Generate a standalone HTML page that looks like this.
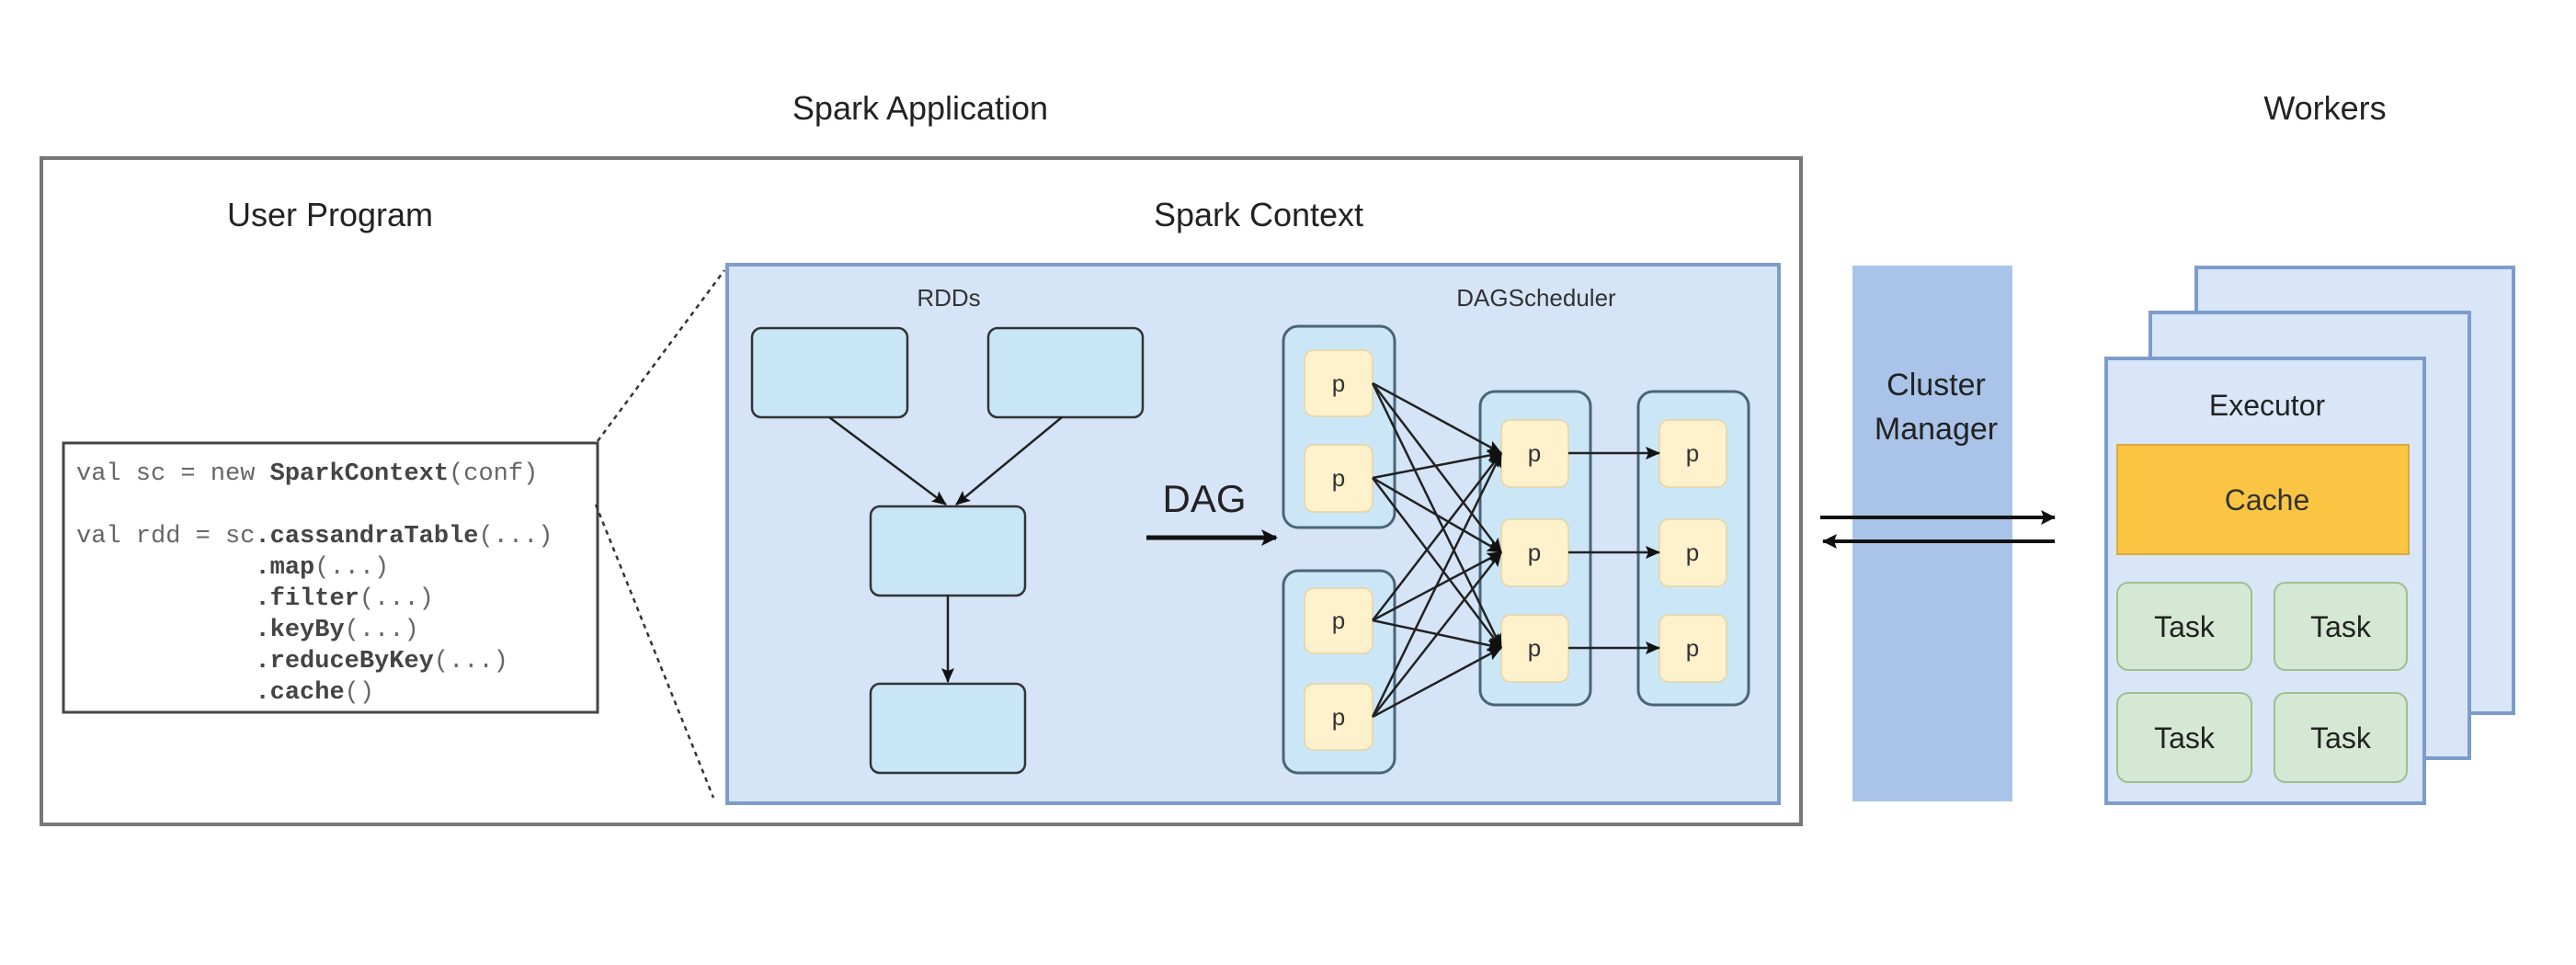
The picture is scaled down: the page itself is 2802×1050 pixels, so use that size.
<!DOCTYPE html>
<html><head><meta charset="utf-8"><style>
html,body{margin:0;padding:0;background:#fff;}
svg{display:block;}
text{font-family:"Liberation Sans",sans-serif;}
.code{font-family:"Liberation Mono",monospace;font-size:27px;fill:#666;}
.code tspan.b{font-weight:bold;fill:#444;}
</style></head><body>
<svg width="2802" height="1050" viewBox="0 0 2802 1050" xmlns="http://www.w3.org/2000/svg">
<defs>
<marker id="ah" markerWidth="16" markerHeight="14" refX="15" refY="7" orient="auto" markerUnits="userSpaceOnUse">
<path d="M0,0 L16,7 L0,14 L3,7 z" fill="#111"/></marker>
<marker id="ah2" markerWidth="18" markerHeight="18" refX="16" refY="9" orient="auto" markerUnits="userSpaceOnUse">
<path d="M0,0 L18,9 L0,18 L4,9 z" fill="#111"/></marker>
<marker id="ah3" markerWidth="16" markerHeight="16" refX="15" refY="8" orient="auto" markerUnits="userSpaceOnUse">
<path d="M0,0 L16,8 L0,16 L3,8 z" fill="#111"/></marker>
</defs>
<text x="1001" y="130" font-size="36" text-anchor="middle" fill="#222">Spark Application</text>
<text x="2529" y="130" font-size="36" text-anchor="middle" fill="#222">Workers</text>
<rect x="45" y="172" width="1914" height="725" fill="#fff" stroke="#777" stroke-width="4"/>
<text x="359" y="246" font-size="36" text-anchor="middle" fill="#222">User Program</text>
<text x="1369" y="246" font-size="36" text-anchor="middle" fill="#222">Spark Context</text>
<rect x="69" y="482" width="581" height="293" fill="#fff" stroke="#444" stroke-width="3"/>
<text class="code" xml:space="preserve"><tspan x="83" y="522">val sc = new <tspan class="b">SparkContext</tspan>(conf)</tspan><tspan x="83" y="590">val rdd = sc<tspan class="b">.cassandraTable</tspan>(...)</tspan><tspan x="83" y="624" xml:space="preserve">            <tspan class="b">.map</tspan>(...)</tspan><tspan x="83" y="658" xml:space="preserve">            <tspan class="b">.filter</tspan>(...)</tspan><tspan x="83" y="692" xml:space="preserve">            <tspan class="b">.keyBy</tspan>(...)</tspan><tspan x="83" y="726" xml:space="preserve">            <tspan class="b">.reduceByKey</tspan>(...)</tspan><tspan x="83" y="760" xml:space="preserve">            <tspan class="b">.cache</tspan>()</tspan></text>
<line x1="650" y1="480" x2="788" y2="294" stroke="#333" stroke-width="2.5" stroke-dasharray="5,5"/>
<line x1="648" y1="549" x2="776" y2="868" stroke="#333" stroke-width="2.5" stroke-dasharray="5,5"/>
<rect x="791" y="288" width="1144" height="586" fill="#d6e4f7" stroke="#7d9ccb" stroke-width="4"/>
<text x="1032" y="333" font-size="26" text-anchor="middle" fill="#333">RDDs</text>
<text x="1671" y="333" font-size="26" text-anchor="middle" fill="#333">DAGScheduler</text>
<g fill="#c9e6f7" stroke="#333" stroke-width="2.5">
<rect x="818" y="357" width="169" height="97" rx="10"/>
<rect x="1075" y="357" width="168" height="97" rx="10"/>
<rect x="947" y="551" width="168" height="97" rx="10"/>
<rect x="947" y="744" width="168" height="97" rx="10"/>
</g>
<g stroke="#222" stroke-width="2.5" marker-end="url(#ah)">
<line x1="902" y1="454" x2="1029" y2="549"/>
<line x1="1155" y1="454" x2="1040" y2="549"/>
<line x1="1031" y1="648" x2="1031" y2="742"/>
</g>
<text x="1310" y="557" font-size="42" text-anchor="middle" fill="#222">DAG</text>
<line x1="1247" y1="585" x2="1388" y2="585" stroke="#111" stroke-width="5" marker-end="url(#ah2)"/>
<g fill="#cbe7f7" stroke="#4a6478" stroke-width="3">
<rect x="1396" y="355" width="121" height="219" rx="16"/>
<rect x="1396" y="621" width="121" height="220" rx="16"/>
<rect x="1610" y="426" width="120" height="341" rx="16"/>
<rect x="1782" y="426" width="120" height="341" rx="16"/>
</g>
<g fill="#fff1cc" stroke="#e6d3a0" stroke-width="1.5">
<rect x="1419" y="381" width="74" height="72" rx="10"/>
<rect x="1419" y="484" width="74" height="73" rx="10"/>
<rect x="1419" y="640" width="74" height="71" rx="10"/>
<rect x="1419" y="744" width="74" height="72" rx="10"/>
<rect x="1633" y="457" width="73" height="73" rx="10"/>
<rect x="1633" y="565" width="73" height="73" rx="10"/>
<rect x="1633" y="669" width="73" height="73" rx="10"/>
<rect x="1805" y="457" width="73" height="73" rx="10"/>
<rect x="1805" y="565" width="73" height="73" rx="10"/>
<rect x="1805" y="669" width="73" height="73" rx="10"/>
</g>
<g font-size="26" text-anchor="middle" fill="#333">
<text x="1456" y="426">p</text><text x="1456" y="529">p</text><text x="1456" y="684">p</text><text x="1456" y="789">p</text>
<text x="1669" y="502">p</text><text x="1669" y="610">p</text><text x="1669" y="714">p</text>
<text x="1841" y="502">p</text><text x="1841" y="610">p</text><text x="1841" y="714">p</text>
</g>
<g stroke="#222" stroke-width="2.5" marker-end="url(#ah)">
<line x1="1493" y1="417" x2="1633" y2="493"/><line x1="1493" y1="417" x2="1633" y2="601"/><line x1="1493" y1="417" x2="1633" y2="705"/>
<line x1="1493" y1="520" x2="1633" y2="493"/><line x1="1493" y1="520" x2="1633" y2="601"/><line x1="1493" y1="520" x2="1633" y2="705"/>
<line x1="1493" y1="675" x2="1633" y2="493"/><line x1="1493" y1="675" x2="1633" y2="601"/><line x1="1493" y1="675" x2="1633" y2="705"/>
<line x1="1493" y1="780" x2="1633" y2="493"/><line x1="1493" y1="780" x2="1633" y2="601"/><line x1="1493" y1="780" x2="1633" y2="705"/>
<line x1="1706" y1="493" x2="1805" y2="493"/><line x1="1706" y1="601" x2="1805" y2="601"/><line x1="1706" y1="705" x2="1805" y2="705"/>
</g>
<rect x="2015" y="289" width="174" height="583" fill="#a9c4e8"/>
<text x="2106" y="430" font-size="34" text-anchor="middle" fill="#222">Cluster</text>
<text x="2106" y="478" font-size="34" text-anchor="middle" fill="#222">Manager</text>
<line x1="1980" y1="563" x2="2235" y2="563" stroke="#111" stroke-width="4" marker-end="url(#ah3)"/>
<line x1="2235" y1="589" x2="1983" y2="589" stroke="#111" stroke-width="4" marker-end="url(#ah3)"/>
<g fill="#d8e6f8" stroke="#7d9ccb" stroke-width="4">
<rect x="2389" y="291" width="345" height="485"/>
<rect x="2339" y="340" width="347" height="485"/>
<rect x="2291" y="390" width="346" height="484"/>
</g>
<text x="2466" y="452" font-size="32" text-anchor="middle" fill="#222">Executor</text>
<rect x="2303" y="484" width="317" height="119" fill="#f9c543" stroke="#d9a93c" stroke-width="2"/>
<text x="2466" y="555" font-size="32" text-anchor="middle" fill="#333">Cache</text>
<g fill="#d5e8d4" stroke="#9cc08e" stroke-width="2">
<rect x="2303" y="634" width="146" height="95" rx="12"/>
<rect x="2474" y="634" width="144" height="95" rx="12"/>
<rect x="2303" y="754" width="146" height="97" rx="12"/>
<rect x="2474" y="754" width="144" height="97" rx="12"/>
</g>
<g font-size="32" text-anchor="middle" fill="#222">
<text x="2376" y="693">Task</text><text x="2546" y="693">Task</text>
<text x="2376" y="814">Task</text><text x="2546" y="814">Task</text>
</g>
</svg>
</body></html>
